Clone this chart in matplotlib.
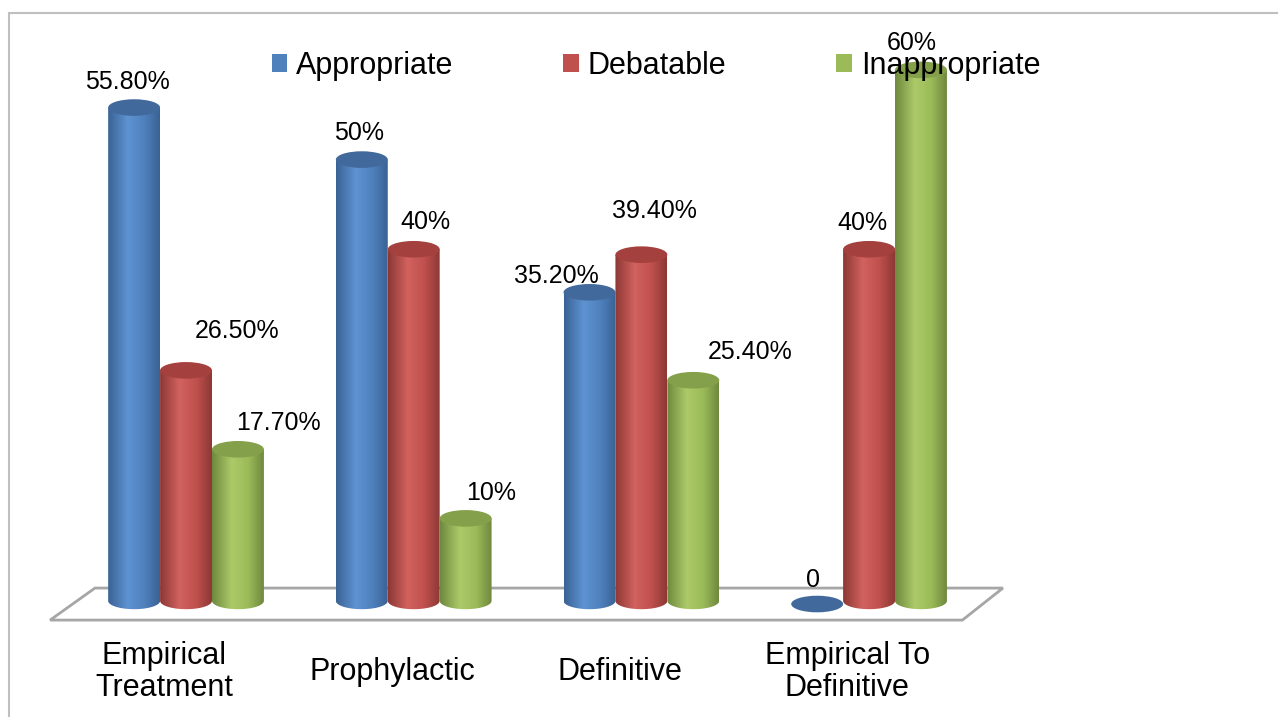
import numpy as np
import matplotlib
matplotlib.use("Agg")
from matplotlib import pyplot as plt
from matplotlib.patches import Ellipse, Polygon, Patch, Rectangle
from matplotlib.path import Path
from matplotlib.colors import LinearSegmentedColormap

categories = ["Empirical\nTreatment", "Prophylactic", "Definitive", "Empirical To\nDefinitive"]
series = ["Appropriate", "Debatable", "Inappropriate"]
appropriate = [55.8, 50, 35.2, 0]
debatable = [26.5, 40, 39.4, 40]
inappropriate = [17.7, 10, 25.4, 60]

# label offsets (x in category units, y in %)
label_dx = [[-0.03, -0.01, -0.145, -0.02],
            [0.224, 0.05, 0.057, -0.03],
            [0.176, 0.11, 0.25, -0.04]]
label_dy = [[2.9, 3.0, 1.8, 3.1],
            [4.35, 3.0, 4.9, 2.9],
            [2.9, 2.8, 3.1, 3.0]]

# (edge, highlight, base, top) per series
shades = [("#3a6294", "#5e92d2", "#4f81bd", "#41699c"),
          ("#8c3835", "#d2625e", "#c0504d", "#a4413e"),
          ("#6f883e", "#acca68", "#9bbb59", "#84a04a")]

plt.rcParams['font.family'] = ['Liberation Sans', 'DejaVu Sans']

fig = plt.figure(figsize=(12.78, 7.17), dpi=100)
ax = fig.add_axes([72.2 / 1278, 0.1144, 910.7 / 1278, 0.8507])
ax.set_xlim(-0.5, 3.5)
ax.set_ylim(-3, 65)
ax.axis("off")

# floor
floor = Polygon([(-0.597, -1.34), (3.41, -1.34), (3.588, 2.23), (-0.40, 2.23)],
                closed=True, facecolor="white", edgecolor="#a6a6a6", lw=2, zorder=1,
                clip_on=False)
ax.add_patch(floor)

w = 0.228
eh = 1.85
base = 0.8
values = [appropriate, debatable, inappropriate]
offsets = [-w, 0, w]

grad = np.linspace(0, 1, 256).reshape(1, -1)
for s, vals in enumerate(values):
    edge, hi, mid, top = shades[s]
    cmap = LinearSegmentedColormap.from_list("c%d" % s, [(0, edge), (0.38, hi), (0.7, mid), (1, edge)])
    for i, v in enumerate(vals):
        xc = i + offsets[s]
        x0, x1 = xc - w / 2, xc + w / 2
        z = 2 + 0.01 * (i * 3 + s)
        if v > 0:
            t = np.linspace(np.pi, 2 * np.pi, 40)
            verts = list(zip(xc + w / 2 * np.cos(t), base + eh / 2 * np.sin(t)))
            verts += [(x1, v), (x0, v), verts[0]]
            body = Path(verts)
            im = ax.imshow(grad, cmap=cmap, extent=[x0, x1, base - eh, v],
                           aspect="auto", zorder=z, interpolation="bilinear")
            im.set_clip_path(body, transform=ax.transData)
        ax.add_patch(Ellipse((xc, max(v, 0.45)), w, eh, facecolor=top, edgecolor="none",
                             zorder=z + 0.001))
        txt = "0" if v == 0 else ("%d%%" % v if v == int(v) else "%.2f%%" % v)
        ax.text(xc + label_dx[s][i], v + label_dy[s][i], txt, ha="center", va="center",
                fontsize=18, zorder=10)

ax.set_xlim(-0.5, 3.5)
ax.set_ylim(-3, 65)

for i, c in enumerate(categories):
    ax.text(i - 0.095, -7.13, c, ha="center", va="center", fontsize=22,
            linespacing=1.05, clip_on=False)

handles = [Patch(facecolor=shades[k][2]) for k in range(3)]
leg = fig.legend(handles, series, loc="center", bbox_to_anchor=(656 / 1278, 0.908), ncol=3,
                 frameon=False, fontsize=22, handlelength=0.5, handleheight=0.5,
                 handletextpad=0.3, columnspacing=3.6)
leg.set_zorder(20)

fig.patches.append(Rectangle((9 / 1278, -0.05), 1.2, 1 - 13 / 717 + 0.05, transform=fig.transFigure,
                             fill=False, edgecolor="#bfbfbf", lw=1.5))

fig.savefig("out.png", dpi=100)
